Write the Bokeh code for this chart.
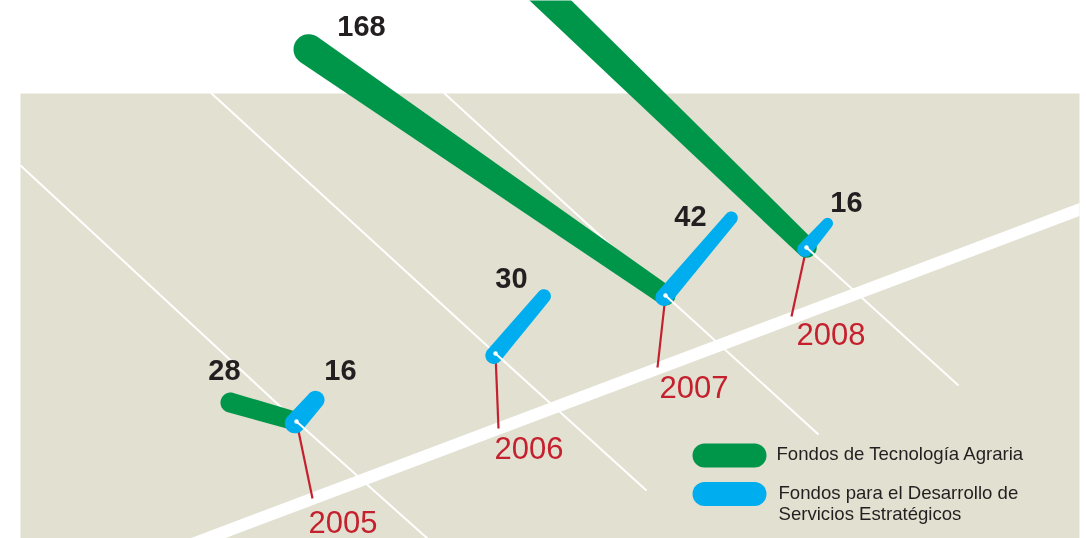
from bokeh.plotting import figure
from bokeh.models import Range1d
from bokeh.core.properties import value
from bokeh.embed import file_html
from bokeh.resources import INLINE
import numpy as np

# ---- data
years = [2005, 2006, 2007, 2008]
fondos_tecnologia = [28, 0, 168, 200]     # the 2008 bar leaves the picture, no label is visible
fondos_servicios = [16, 30, 42, 16]
tecnologia_labels = ["28", "", "168", ""]
servicios_labels = ["16", "30", "42", "16"]
legend_tecnologia = ["Fondos de Tecnología Agraria"]
legend_servicios = ["Fondos para el Desarrollo de", "Servicios Estratégicos"]

# ---- the drawing's oblique projection
W, H = 1080, 538
PANEL = (20, 1079, 93, 538)
GREEN, BLUE, RED, INK, SAND = "#00964a", "#00aeef", "#c4202e", "#231f20", "#e2e0d1"
FONT = value("Liberation Sans")


def floor_point(year):
    i = year - years[0]
    return 296 + 199 * i - 14.5 * i * (i - 1), 421 - 68 * i + 5 * i * (i - 1)


green_angle = {2005: 164, 2007: 145.4, 2008: 136.0}
green_scale = {2005: 2.45, 2007: 2.58, 2008: 2.58}
green_w0 = {2005: 18.5, 2007: 20, 2008: 20.5}
GREEN_TAPER = 0.024
blue_angle = {2005: 48.7, 2006: 49.8, 2007: 49.7, 2008: 49}
blue_scale = {2005: 1.8, 2006: 2.5, 2007: 2.42, 2008: 2.0}
blue_w0 = {2005: 20, 2006: 17, 2007: 17, 2008: 15}
blue_w1 = {2005: 18, 2006: 14, 2007: 13, 2008: 11}
grid_back = {2005: (-276, -256), 2006: (-285, -261), 2007: (-222, -203), 2008: (0, 0)}
grid_fwd = {2005: (131, 117), 2006: (151, 137), 2007: (153, 139), 2008: (152, 138)}
leader_end = {2005: (16, 77), 2006: (3, 75), 2007: (-8, 72), 2008: (-15, 69)}
year_label_at = {2005: (12, 100), 2006: (-1, 94), 2007: (-6, 91), 2008: (-10, 86)}
green_label_off = {2005: (-72, -52), 2007: (-304, -270)}
blue_label_off = {2005: (44, -52), 2006: (16, -76), 2007: (25, -80), 2008: (40, -46)}


def capsule(x0, y0, angle, length, w0, w1, back=0.0):
    """Tapered bar with round ends, from (x0, y0) towards angle (degrees, screen up = +)."""
    a = np.radians(angle)
    x1, y1 = x0 + length * np.cos(a), y0 - length * np.sin(a)
    xs, ys = x0 - back * np.cos(a), y0 + back * np.sin(a)
    t = np.linspace(-np.pi / 2, np.pi / 2, 24)
    px = list(x1 + w1 / 2 * np.cos(a + t))
    py = list(y1 - w1 / 2 * np.sin(a + t))
    t2 = np.linspace(np.pi / 2, 3 * np.pi / 2, 24)
    px += list(xs + w0 / 2 * np.cos(a + t2))
    py += list(ys - w0 / 2 * np.sin(a + t2))
    return px, py


p = figure(width=W, height=H, output_backend="svg", toolbar_location=None,
           x_range=Range1d(0, W), y_range=Range1d(H, 0), min_border=0,
           background_fill_color="white", border_fill_color="white", outline_line_color=None)
p.styles = {"position": "fixed", "left": "0px", "top": "0px"}
p.axis.visible = False
p.grid.visible = False

# panel
p.quad(left=[PANEL[0]], right=[PANEL[1]], top=[PANEL[2]], bottom=[PANEL[3]],
       fill_color=SAND, line_color=None)

# oblique grid lines, one per year
for y in years:
    bx, by = floor_point(y)
    (ax, ay), (fx, fy) = grid_back[y], grid_fwd[y]
    p.line([bx + ax, bx, bx + fx], [by + ay, by, by + fy], line_color="white", line_width=2)

# floor axis (vertical cut at the panel edge)
ax_x = np.array([100.0, PANEL[1]])
ax_c = 450 - 0.377 * (ax_x - 440)
p.patch(list(ax_x) + list(ax_x[::-1]), list(ax_c - 6.5) + list((ax_c + 6.5)[::-1]),
        fill_color="white", line_color=None)

# red leaders and year labels
for y in years:
    bx, by = floor_point(y)
    dx, dy = leader_end[y]
    p.line([bx, bx + dx], [by, by + dy], line_color=RED, line_width=2.2)
    lx, ly = year_label_at[y]
    p.text([bx + lx], [by + ly], text=[str(y)], text_font=FONT, text_font_size="31px",
           text_color=RED, text_align="left", text_baseline="middle")

# green bars
for y, v, lab in zip(years, fondos_tecnologia, tecnologia_labels):
    if v <= 0:
        continue
    bx, by = floor_point(y)
    L = v * green_scale[y]
    w0 = green_w0[y]
    xs, ys = capsule(bx, by, green_angle[y], L, w0, w0 + GREEN_TAPER * L)
    p.patch(xs, ys, fill_color=GREEN, line_color=None)
    if lab:
        ox, oy = green_label_off[y]
        p.text([bx + ox], [by + oy], text=[lab], text_font=FONT, text_font_size="29px",
               text_font_style="bold", text_color=INK, text_align="center", text_baseline="middle")

# blue bars
for y, v, lab in zip(years, fondos_servicios, servicios_labels):
    bx, by = floor_point(y)
    L = v * blue_scale[y]
    xs, ys = capsule(bx, by, blue_angle[y], L, blue_w0[y], blue_w1[y], back=2.5)
    p.patch(xs, ys, fill_color=BLUE, line_color=None)
    ox, oy = blue_label_off[y]
    p.text([bx + ox], [by + oy], text=[lab], text_font=FONT, text_font_size="29px",
           text_font_style="bold", text_color=INK, text_align="center", text_baseline="middle")
    # the grid line and its dot stay visible over the bar's foot
    fx, fy = grid_fwd[y]
    n = np.hypot(fx, fy)
    p.line([bx, bx + 14 * fx / n], [by, by + 14 * fy / n], line_color="white", line_width=2)
    p.circle([bx], [by], radius=2.2, fill_color="white", line_color=None)

# legend
p.line([704, 754], [455, 455], line_color=GREEN, line_width=24, line_cap="round")
p.line([704, 754], [493.5, 493.5], line_color=BLUE, line_width=24, line_cap="round")
p.text([776], [453], text=legend_tecnologia, text_font=FONT, text_font_size="18.6px",
       text_color=INK, text_baseline="middle")
p.text([778, 778], [492, 513], text=legend_servicios, text_font=FONT, text_font_size="18.6px",
       text_color=INK, text_baseline="middle")

open("out.html", "w").write(file_html(p, INLINE))
